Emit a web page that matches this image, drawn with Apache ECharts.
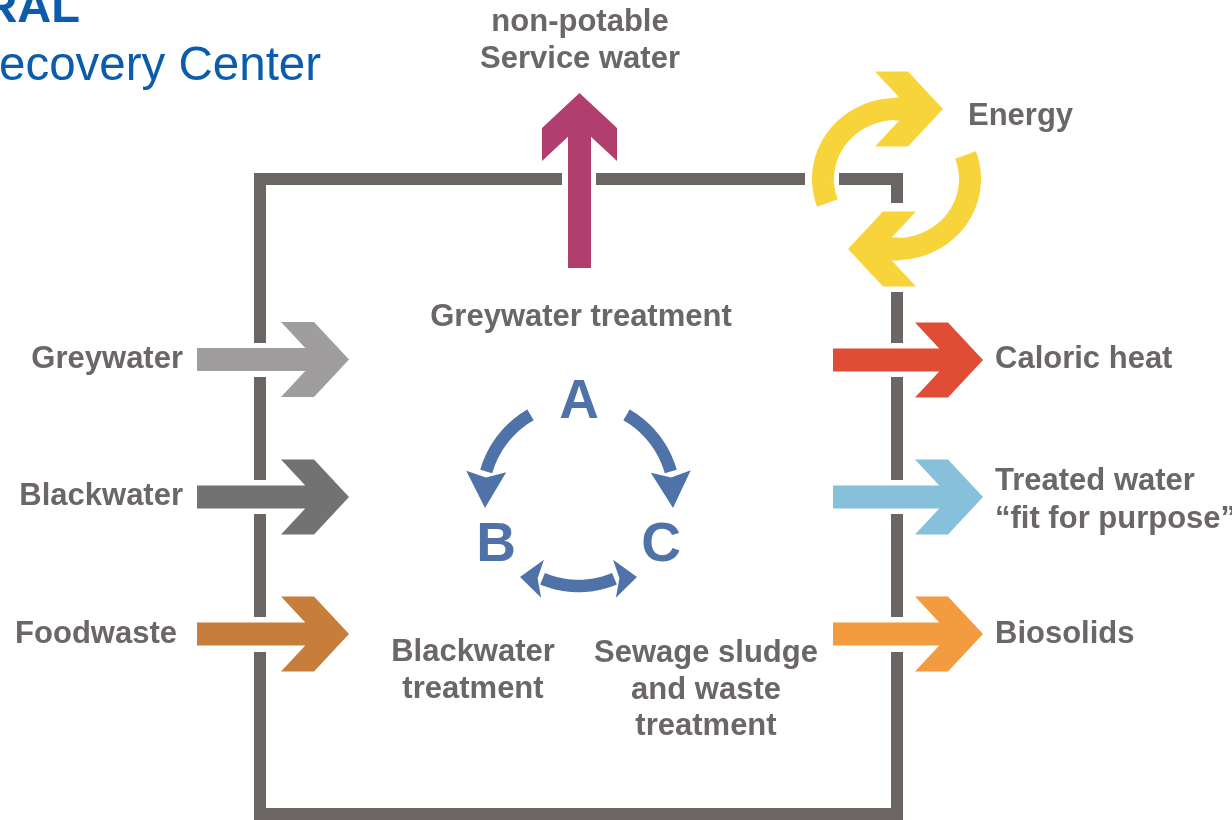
<!DOCTYPE html>
<html><head><meta charset="utf-8">
<script src="https://cdn.jsdelivr.net/npm/echarts@6/dist/echarts.min.js"></script>
<style>html,body{margin:0;padding:0;background:#fff}#c{width:1232px;height:820px}</style>
</head><body><div id="c"></div>
<script>
// ---------- content ----------
const titleLines = ['RAL', 'ecovery Center'];
const inflowLabels = ['Greywater', 'Blackwater', 'Foodwaste'];
const inflowColors = ['#a09d9e', '#737272', '#c67e3a'];
const outflowLabels = ['Caloric heat', 'Treated water\n\u201Cfit for purpose\u201D', 'Biosolids'];
const outflowColors = ['#e04c36', '#86c0da', '#f29b3f'];
const topOutputLabel = 'non-potable\nService water';
const topOutputColor = '#b03e6f';
const energyLabel = 'Energy';
const energyColor = '#f7d53a';
const processLetters = ['A', 'B', 'C'];
const processCaptions = ['Greywater treatment', 'Blackwater\ntreatment', 'Sewage sludge\nand waste\ntreatment'];

// ---------- diagram anchor values (axis units: x 0..1232, y 0..820 downwards) ----------
const flowRowsIn = [359.5, 497, 634];
const flowRowsOut = [360, 497, 634];
const inflowSpan = [197, 349];
const outflowSpan = [833, 983];
const topOutputSpan = [268, 93];     // y from, y to
const topOutputX = 579.5;
const boxSegments = [
  [[260, 343], [260, 179], [562, 179]],
  [[596, 179], [805, 179]],
  [[839, 179], [897, 179], [897, 203]],
  [[897, 292], [897, 343]],
  [[897, 377], [897, 480]],
  [[897, 514], [897, 617]],
  [[897, 652], [897, 814], [260, 814], [260, 652]],
  [[260, 617], [260, 514]],
  [[260, 480], [260, 377]]
];
// energy cycle: centre, radii, start/end angle (deg), head base, head tip
const energyArcs = [
  { c: [896.5, 179], r: [73.5, 70], a: [160, 276], headFrom: [895, 109], headTo: [943, 109] },
  { c: [896.5, 179], r: [73.5, 70], a: [-20, 96], headFrom: [900, 249], headTo: [848, 249] }
];
// A-B-C cycle arcs: centre, radius, start/end angle, arrow tip(s)
const cycleArcs = [
  { c: [578.5, 498], r: 96, a: [240, 196], tips: [[485, 508]] },
  { c: [578.5, 498], r: 96, a: [300, 344], tips: [[673, 508]] },
  { c: [578.5, 494], r: 92, a: [113, 67], tips: [[520, 577], [637, 577]] }
];
const letterPos = [[579, 403], [496, 546], [661, 546]];
const inflowLabelPos = [[183, 359], [183, 496], [177, 634]];
const outflowLabelPos = [[995, 359], [995, 500], [995, 634]];
const captionPos = [[581, 317], [473, 671], [706, 690]];
const topOutputLabelPos = [580, 41];
const energyLabelPos = [968, 116];
const titlePos = [[80, 9], [-1, 67]];

// ---------- styles ----------
const boxColor = '#6b6663';
const textColor = '#6b6766';
const cycleColor = '#4f73a9';
const titleColor = '#0b5cad';
const labelFont = '"Liberation Sans", Arial, sans-serif';

// ---------- build mark lists ----------
const arrows = [];
inflowLabels.forEach((t, i) => arrows.push({ from: [inflowSpan[0], flowRowsIn[i]], to: [inflowSpan[1], flowRowsIn[i]], color: inflowColors[i] }));
outflowLabels.forEach((t, i) => arrows.push({ from: [outflowSpan[0], flowRowsOut[i]], to: [outflowSpan[1], flowRowsOut[i]], color: outflowColors[i] }));
arrows.push({ from: [topOutputX, topOutputSpan[0]], to: [topOutputX, topOutputSpan[1]], color: topOutputColor });
energyArcs.forEach(e => arrows.push({ from: e.headFrom, to: e.headTo, color: energyColor }));

const texts = [];
inflowLabels.forEach((t, i) => texts.push({ text: t, pos: inflowLabelPos[i], align: 'right', size: 31, lh: 38, color: textColor, weight: 'bold' }));
outflowLabels.forEach((t, i) => texts.push({ text: t, pos: outflowLabelPos[i], align: 'left', size: 31, lh: 38, color: textColor, weight: 'bold' }));
processCaptions.forEach((t, i) => texts.push({ text: t, pos: captionPos[i], align: 'center', size: 31, lh: 36.5, color: textColor, weight: 'bold' }));
processLetters.forEach((t, i) => texts.push({ text: t, pos: letterPos[i], align: 'center', size: 55, lh: 55, color: cycleColor, weight: 'bold' }));
texts.push({ text: topOutputLabel, pos: topOutputLabelPos, align: 'center', size: 31, lh: 37, color: textColor, weight: 'bold' });
texts.push({ text: energyLabel, pos: energyLabelPos, align: 'left', size: 31, lh: 38, color: textColor, weight: 'bold' });
texts.push({ text: titleLines[0], pos: titlePos[0], align: 'right', size: 47, lh: 47, color: titleColor, weight: 'bold' });
texts.push({ text: titleLines[1], pos: titlePos[1], align: 'left', size: 47.5, lh: 47.5, color: titleColor, weight: 'normal' });

// ---------- geometry helpers ----------
function arrowPoly(p0, p1) {
  const dx = p1[0] - p0[0], dy = p1[1] - p0[1], L = Math.hypot(dx, dy);
  const d = [dx / L, dy / L], n = [-d[1], d[0]];
  const hs = 11.5, hh = 37.5, depth = 35, wing = 33;
  const join = depth + wing - (hh - hs) * depth / hh;
  const at = (back, off) => [p1[0] - d[0] * back + n[0] * off, p1[1] - d[1] * back + n[1] * off];
  return [[p0[0] + n[0] * hs, p0[1] + n[1] * hs], at(join, hs), at(depth + wing, hh), at(depth, hh), [p1[0], p1[1]],
          at(depth, -hh), at(depth + wing, -hh), at(join, -hs), [p0[0] - n[0] * hs, p0[1] - n[1] * hs]];
}
function arcPoints(c, rx, ry, a0, a1) {
  const pts = [], steps = 60;
  for (let k = 0; k <= steps; k++) {
    const a = (a0 + (a1 - a0) * k / steps) * Math.PI / 180;
    pts.push([c[0] + rx * Math.cos(a), c[1] + ry * Math.sin(a)]);
  }
  return pts;
}
function headPoly(E, T, hw, notch) {
  const dx = T[0] - E[0], dy = T[1] - E[1], L = Math.hypot(dx, dy);
  const d = [dx / L, dy / L], n = [-d[1], d[0]];
  return [T, [E[0] + n[0] * hw, E[1] + n[1] * hw], [E[0] + d[0] * notch, E[1] + d[1] * notch], [E[0] - n[0] * hw, E[1] - n[1] * hw]];
}

const chart = echarts.init(document.getElementById('c'), null, { renderer: 'canvas' });
const mapPts = (api, pts) => pts.map(p => api.coord(p));

chart.setOption({
  animation: false,
  backgroundColor: '#ffffff',
  grid: { left: 0, right: 0, top: 0, bottom: 0 },
  xAxis: { type: 'value', min: 0, max: 1232, show: false },
  yAxis: { type: 'value', min: 0, max: 820, inverse: true, show: false },
  series: [
    { // enclosure
      type: 'custom', silent: true,
      data: boxSegments.map(s => [s[0][0], s[0][1]]),
      renderItem: (params, api) => ({
        type: 'polyline',
        shape: { points: mapPts(api, boxSegments[params.dataIndex]) },
        style: { stroke: boxColor, lineWidth: 12, fill: null, lineJoin: 'miter', lineCap: 'butt' }
      })
    },
    { // energy arcs
      type: 'custom', silent: true,
      data: energyArcs.map(e => [e.c[0], e.c[1]]),
      renderItem: (params, api) => {
        const e = energyArcs[params.dataIndex];
        return {
          type: 'polyline',
          shape: { points: mapPts(api, arcPoints(e.c, e.r[0], e.r[1], e.a[0], e.a[1])) },
          style: { stroke: energyColor, lineWidth: 22, fill: null, lineCap: 'butt' }
        };
      }
    },
    { // straight block arrows
      type: 'custom', silent: true,
      data: arrows.map(a => [a.from[0], a.from[1], a.to[0], a.to[1]]),
      renderItem: (params, api) => {
        const p0 = api.coord([api.value(0), api.value(1)]);
        const p1 = api.coord([api.value(2), api.value(3)]);
        return { type: 'polygon', shape: { points: arrowPoly(p0, p1) }, style: { fill: arrows[params.dataIndex].color } };
      }
    },
    { // A-B-C cycle
      type: 'custom', silent: true,
      data: cycleArcs.map(e => [e.c[0], e.c[1]]),
      renderItem: (params, api) => {
        const e = cycleArcs[params.dataIndex];
        const px = mapPts(api, arcPoints(e.c, e.r, e.r, e.a[0], e.a[1]));
        const children = [
          { type: 'polyline', shape: { points: px }, style: { stroke: cycleColor, lineWidth: 12.5, fill: null, lineCap: 'butt' } }
        ];
        const ends = e.tips.length === 2 ? [px[0], px[px.length - 1]] : [px[px.length - 1]];
        e.tips.forEach((tip, k) => {
          const T = api.coord(tip);
          const small = e.tips.length === 2;
          children.push({ type: 'polygon', shape: { points: headPoly(ends[k], T, small ? 19 : 20, small ? 5 : 6) }, style: { fill: cycleColor } });
        });
        return { type: 'group', children };
      }
    },
    { // texts
      type: 'custom', silent: true,
      data: texts.map(t => [t.pos[0], t.pos[1]]),
      renderItem: (params, api) => {
        const t = texts[params.dataIndex];
        const p = api.coord([api.value(0), api.value(1)]);
        return {
          type: 'text', x: p[0], y: p[1],
          style: {
            text: t.text, fill: t.color, fontSize: t.size, fontWeight: t.weight, fontFamily: labelFont,
            align: t.align, verticalAlign: 'middle', lineHeight: t.lh
          }
        };
      }
    }
  ]
});
</script></body></html>
